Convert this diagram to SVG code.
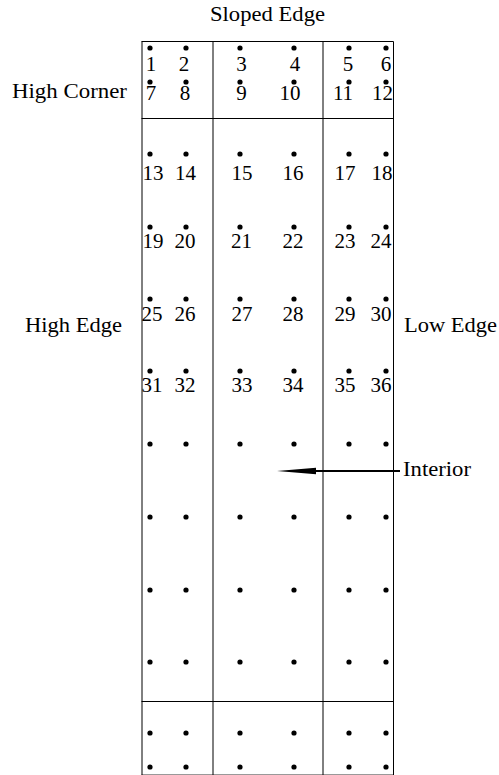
<svg xmlns="http://www.w3.org/2000/svg" width="499" height="775" viewBox="0 0 499 775">
<style>
.fr{stroke:#000;stroke-width:1;fill:none}
.d{fill:#000}
.t{font-family:"Liberation Serif","Times New Roman",serif;font-size:21px;fill:#000}
.n{font-family:"Liberation Serif","Times New Roman",serif;font-size:21px;fill:#000;text-anchor:middle}
</style>
<defs>
<circle id="dot" r="2.6"/>
</defs>
<g id="frame">
<line class="fr" x1="141.5" y1="41.5" x2="393.5" y2="41.5"/>
<line class="fr" x1="141.5" y1="118.5" x2="393.5" y2="118.5"/>
<line class="fr" x1="141.5" y1="701.5" x2="393.5" y2="701.5"/>
<line class="fr" x1="141.5" y1="774.5" x2="393.5" y2="774.5" stroke-opacity="0.4"/>
<line class="fr" x1="142" y1="41.5" x2="142" y2="775"/>
<line class="fr" x1="213" y1="41.5" x2="213" y2="775"/>
<line class="fr" x1="323" y1="41.5" x2="323" y2="775"/>
<line class="fr" x1="393.5" y1="41.5" x2="393.5" y2="775"/>
</g>
<g id="dots" class="d">
<g id="row1"><use href="#dot" x="150" y="48"/><use href="#dot" x="186" y="48"/><use href="#dot" x="240" y="48"/><use href="#dot" x="294" y="48"/><use href="#dot" x="349" y="48"/><use href="#dot" x="386" y="48"/></g>
<g id="row2"><use href="#dot" x="150" y="82"/><use href="#dot" x="186" y="82"/><use href="#dot" x="240" y="82"/><use href="#dot" x="294" y="82"/><use href="#dot" x="349" y="82"/><use href="#dot" x="386" y="82"/></g>
<g id="row3"><use href="#dot" x="150" y="154"/><use href="#dot" x="186" y="154"/><use href="#dot" x="240" y="154"/><use href="#dot" x="294" y="154"/><use href="#dot" x="349" y="154"/><use href="#dot" x="386" y="154"/></g>
<g id="row4"><use href="#dot" x="150" y="227"/><use href="#dot" x="186" y="227"/><use href="#dot" x="240" y="227"/><use href="#dot" x="294" y="227"/><use href="#dot" x="349" y="227"/><use href="#dot" x="386" y="227"/></g>
<g id="row5"><use href="#dot" x="150" y="299"/><use href="#dot" x="186" y="299"/><use href="#dot" x="240" y="299"/><use href="#dot" x="294" y="299"/><use href="#dot" x="349" y="299"/><use href="#dot" x="386" y="299"/></g>
<g id="row6"><use href="#dot" x="150" y="371"/><use href="#dot" x="186" y="371"/><use href="#dot" x="240" y="371"/><use href="#dot" x="294" y="371"/><use href="#dot" x="349" y="371"/><use href="#dot" x="386" y="371"/></g>
<g id="row7"><use href="#dot" x="150" y="444"/><use href="#dot" x="186" y="444"/><use href="#dot" x="240" y="444"/><use href="#dot" x="294" y="444"/><use href="#dot" x="349" y="444"/><use href="#dot" x="386" y="444"/></g>
<g id="row8"><use href="#dot" x="150" y="517"/><use href="#dot" x="186" y="517"/><use href="#dot" x="240" y="517"/><use href="#dot" x="294" y="517"/><use href="#dot" x="349" y="517"/><use href="#dot" x="386" y="517"/></g>
<g id="row9"><use href="#dot" x="150" y="590"/><use href="#dot" x="186" y="590"/><use href="#dot" x="240" y="590"/><use href="#dot" x="294" y="590"/><use href="#dot" x="349" y="590"/><use href="#dot" x="386" y="590"/></g>
<g id="row10"><use href="#dot" x="150" y="662"/><use href="#dot" x="186" y="662"/><use href="#dot" x="240" y="662"/><use href="#dot" x="294" y="662"/><use href="#dot" x="349" y="662"/><use href="#dot" x="386" y="662"/></g>
<g id="row11"><use href="#dot" x="150" y="733"/><use href="#dot" x="186" y="733"/><use href="#dot" x="240" y="733"/><use href="#dot" x="294" y="733"/><use href="#dot" x="349" y="733"/><use href="#dot" x="386" y="733"/></g>
<g id="row12"><use href="#dot" x="150" y="767"/><use href="#dot" x="186" y="767"/><use href="#dot" x="240" y="767"/><use href="#dot" x="294" y="767"/><use href="#dot" x="349" y="767"/><use href="#dot" x="386" y="767"/></g>
</g>
<g id="numbers">
<text class="n" x="151" y="71">1</text><text class="n" x="184" y="71">2</text><text class="n" x="241.5" y="71">3</text><text class="n" x="295" y="71">4</text><text class="n" x="348" y="71">5</text><text class="n" x="386" y="71">6</text>
<text class="n" x="151" y="100">7</text><text class="n" x="185" y="100">8</text><text class="n" x="241.5" y="100">9</text><text class="n" x="290" y="100">10</text><text class="n" x="343" y="100">11</text><text class="n" x="382.5" y="100">12</text>
<text class="n" x="153" y="180">13</text><text class="n" x="185.5" y="180">14</text><text class="n" x="242" y="180">15</text><text class="n" x="293" y="180">16</text><text class="n" x="345" y="180">17</text><text class="n" x="382" y="180">18</text>
<text class="n" x="153" y="248">19</text><text class="n" x="185" y="248">20</text><text class="n" x="241.5" y="248">21</text><text class="n" x="293" y="248">22</text><text class="n" x="345" y="248">23</text><text class="n" x="381" y="248">24</text>
<text class="n" x="152" y="321">25</text><text class="n" x="185" y="321">26</text><text class="n" x="242" y="321">27</text><text class="n" x="293" y="321">28</text><text class="n" x="345" y="321">29</text><text class="n" x="381" y="321">30</text>
<text class="n" x="152" y="392">31</text><text class="n" x="185" y="392">32</text><text class="n" x="242" y="392">33</text><text class="n" x="293" y="392">34</text><text class="n" x="345" y="392">35</text><text class="n" x="381" y="392">36</text>
</g>
<g id="label-sloped-edge"><text class="t" x="210" y="21" textLength="115" lengthAdjust="spacingAndGlyphs">Sloped Edge</text></g>
<g id="label-high-corner"><text class="t" x="12" y="98" textLength="115" lengthAdjust="spacingAndGlyphs">High Corner</text></g>
<g id="label-high-edge"><text class="t" x="25" y="332" textLength="97" lengthAdjust="spacingAndGlyphs">High Edge</text></g>
<g id="label-low-edge"><text class="t" x="404" y="332" textLength="93" lengthAdjust="spacingAndGlyphs">Low Edge</text></g>
<g id="label-interior"><text class="t" x="403" y="476" textLength="68" lengthAdjust="spacingAndGlyphs">Interior</text></g>
<g id="connectors">
<line x1="400" y1="471" x2="314" y2="471" stroke="#000" stroke-width="2"/>
<polygon points="316,467.7 316,474.3 277,471" fill="#000"/>
</g>
</svg>
